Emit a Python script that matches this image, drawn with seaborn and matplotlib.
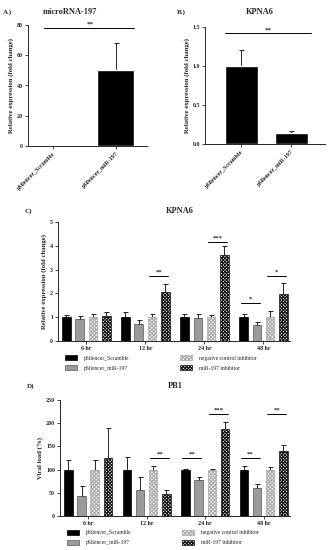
import numpy as np
import pandas as pd
import matplotlib
matplotlib.use("Agg")
import matplotlib.pyplot as plt
from matplotlib.patches import Patch
import seaborn as sns

# ---------------- data ----------------
ab_groups = ["pSilencer_Scramble", "pSilencer_miR-197"]
a_values = [0.5, 50.5]
a_errors = [0.3, 17.5]
b_values = [1.0, 0.135]
b_errors = [0.21, 0.035]

times = ["6 hr", "12 hr", "24 hr", "48 hr"]
series = ["pSilencer_Scramble", "pSilencer_miR-197",
          "negative control inhibitor", "miR-197 inhibitor"]

c_scramble = [1.0, 1.0, 1.0, 1.0]
c_mir = [0.92, 0.73, 0.97, 0.67]
c_negctrl = [1.0, 1.0, 1.0, 1.0]
c_inhib = [1.05, 2.05, 3.6, 1.97]
c_scramble_err = [0.08, 0.2, 0.15, 0.13]
c_mir_err = [0.12, 0.15, 0.15, 0.12]
c_negctrl_err = [0.14, 0.14, 0.1, 0.25]
c_inhib_err = [0.17, 0.35, 0.38, 0.47]

d_scramble = [100, 100, 100, 100]
d_mir = [44, 55, 77, 61]
d_negctrl = [100, 100, 100, 100]
d_inhib = [126, 47, 187, 141]
d_scramble_err = [20, 27, 2, 7]
d_mir_err = [20, 28, 8, 8]
d_negctrl_err = [20, 8, 1, 5]
d_inhib_err = [64, 8, 15, 12]

# significance: (time index, bar a, bar b, y, label)
c_sig = [(1, 2, 3, 2.73, "**"), (2, 2, 3, 4.16, "***"),
         (3, 0, 1, 1.6, "*"), (3, 2, 3, 2.73, "*")]
d_sig = [(1, 2, 3, 125, "**"), (2, 0, 1, 125, "**"), (2, 2, 3, 220, "***"),
         (3, 0, 1, 125, "**"), (3, 2, 3, 220, "**")]

# ---------------- style ----------------
sns.set_theme(style="ticks")
plt.rcParams["font.family"] = ["Liberation Serif", "DejaVu Serif"]
plt.rcParams["font.weight"] = "bold"
plt.rcParams["axes.labelweight"] = "bold"
plt.rcParams["hatch.linewidth"] = 0.8
plt.rcParams["axes.linewidth"] = 0.7

W, H = 330, 550
fig = plt.figure(figsize=(W / 100, H / 100), dpi=100)


def px_axes(left, top, right, bottom):
    return fig.add_axes([left / W, 1 - bottom / H, (right - left) / W, (bottom - top) / H])


face = ["#000000", "#9b9b9b", "#ffffff", "#ffffff"]
edge = ["#000000", "#555555", "#a8a8a8", "#111111"]
hatches = [None, None, "xxxxxxxxx", "xxxxxxxxxx"]

TICK_FS = 4.3
LAB_FS = 4.9
TITLE_FS = 6.0


def style_axes(ax):
    sns.despine(ax=ax)
    ax.tick_params(axis="both", labelsize=TICK_FS, width=0.6, length=2, pad=1.5)
    for lab in ax.get_xticklabels() + ax.get_yticklabels():
        lab.set_fontweight("bold")


def errbars(ax, xs, ys, errs):
    ax.errorbar(xs, ys, yerr=[np.zeros(len(errs)), errs], fmt="none",
                ecolor="black", elinewidth=0.6, capsize=1.8, capthick=0.6, zorder=1)


# ---------------- panel A ----------------
axA = px_axes(28, 25, 147, 146)
dfA = pd.DataFrame({"group": ab_groups, "value": a_values})
sns.barplot(data=dfA, x="group", y="value", color="black", width=0.6,
            errorbar=None, ax=axA, zorder=2)
xsA = [p.get_x() + p.get_width() / 2 for p in axA.patches]
errbars(axA, xsA, a_values, a_errors)
axA.set_ylim(0, 80)
axA.set_yticks([0, 20, 40, 60, 80])
axA.set_xlim(-0.4, 1.5)
axA.set_xlabel("")
axA.set_ylabel("Relative expression (fold change)", fontsize=LAB_FS, labelpad=2)
style_axes(axA)
axA.set_xticks(range(len(ab_groups)))
axA.set_xticklabels(ab_groups, rotation=45, ha="right", rotation_mode="anchor",
                    fontsize=TICK_FS, fontweight="bold")
axA.plot([-0.15, 1.3], [78, 78], color="black", lw=0.7, clip_on=False)
axA.text(0.6, 79, "**", ha="center", va="bottom", fontsize=5, fontweight="bold")
fig.text(3 / W, 1 - 12 / H, "A.)", fontsize=TITLE_FS - 1, fontweight="bold", va="center")
fig.text(70 / W, 1 - 12 / H, "microRNA-197", fontsize=TITLE_FS, fontweight="bold",
         va="center", ha="center")

# ---------------- panel B ----------------
axB = px_axes(205, 27, 325, 144)
dfB = pd.DataFrame({"group": ab_groups, "value": b_values})
sns.barplot(data=dfB, x="group", y="value", color="black", width=0.66,
            errorbar=None, ax=axB, zorder=2)
xsB = [p.get_x() + p.get_width() / 2 for p in axB.patches]
errbars(axB, xsB, b_values, b_errors)
axB.set_ylim(0, 1.5)
axB.set_yticks([0.0, 0.5, 1.0, 1.5])
axB.set_yticklabels(["0.0", "0.5", "1.0", "1.5"])
axB.set_xlim(-0.72, 1.68)
axB.set_xlabel("")
axB.set_ylabel("Relative expression (fold change)", fontsize=LAB_FS, labelpad=2)
style_axes(axB)
axB.set_xticks(range(len(ab_groups)))
axB.set_xticklabels(ab_groups, rotation=45, ha="right", rotation_mode="anchor",
                    fontsize=TICK_FS, fontweight="bold")
axB.plot([-0.32, 1.40], [1.42, 1.42], color="black", lw=0.7, clip_on=False)
axB.text(0.54, 1.43, "**", ha="center", va="bottom", fontsize=5, fontweight="bold")
fig.text(177 / W, 1 - 12 / H, "B.)", fontsize=TITLE_FS - 1, fontweight="bold", va="center")
fig.text(260 / W, 1 - 12 / H, "KPNA6", fontsize=TITLE_FS, fontweight="bold",
         va="center", ha="center")


# ---------------- grouped panels ----------------
def grouped(ax, vals, errs, ylim, yticks, ylabel, sig, sig_fs):
    rows = []
    for s, v in zip(series, vals):
        for t, y in zip(times, v):
            rows.append({"time": t, "series": s, "value": y})
    df = pd.DataFrame(rows)
    sns.barplot(data=df, x="time", y="value", hue="series", order=times,
                hue_order=series, palette=face, width=0.9, gap=0.36,
                errorbar=None, ax=ax, zorder=2, legend=False)
    patches = ax.patches[:len(series) * len(times)]
    centers = {}
    for k, p in enumerate(patches):
        si, ti = divmod(k, len(times))
        p.set_edgecolor(edge[si])
        p.set_linewidth(0.5)
        if hatches[si]:
            p.set_hatch(hatches[si])
        centers[(ti, si)] = p.get_x() + p.get_width() / 2
    for si in range(len(series)):
        xs = [centers[(ti, si)] for ti in range(len(times))]
        errbars(ax, xs, vals[si], errs[si])
    ax.set_ylim(*ylim)
    ax.set_yticks(yticks)
    ax.set_xlim(-0.48, 3.45)
    ax.set_xlabel("")
    ax.set_ylabel(ylabel, fontsize=LAB_FS, labelpad=2)
    style_axes(ax)
    for (ti, a, b, y, lab) in sig:
        x0 = centers[(ti, a)] - 0.05
        x1 = centers[(ti, b)] + 0.05
        ax.plot([x0, x1], [y, y], color="black", lw=0.7, clip_on=False)
        ax.text((x0 + x1) / 2, y + sig_fs, lab, ha="center", va="bottom",
                fontsize=4.8, fontweight="bold")
    handles = [Patch(facecolor=face[i], edgecolor=edge[i], hatch=hatches[i], lw=0.5)
               for i in range(len(series))]
    leg = ax.legend(handles, series, loc="upper left", bbox_to_anchor=(0.02, -0.1),
                    ncol=2, frameon=False, fontsize=4.1, handlelength=2.2,
                    handleheight=0.9, columnspacing=8.8, labelspacing=0.85,
                    handletextpad=1.2, borderaxespad=0)
    for t in leg.get_texts():
        t.set_fontweight("normal")


axC = px_axes(58, 222, 290, 341)
grouped(axC,
        [c_scramble, c_mir, c_negctrl, c_inhib],
        [c_scramble_err, c_mir_err, c_negctrl_err, c_inhib_err],
        (0, 5), [0, 1, 2, 3, 4, 5], "Relative expression (fold change)", c_sig, 0.04)
fig.text(25 / W, 1 - 211 / H, "C)", fontsize=TITLE_FS - 1, fontweight="bold", va="center")
fig.text(180 / W, 1 - 211 / H, "KPNA6", fontsize=TITLE_FS, fontweight="bold",
         va="center", ha="center")

axD = px_axes(60, 400, 290, 516)
grouped(axD,
        [d_scramble, d_mir, d_negctrl, d_inhib],
        [d_scramble_err, d_mir_err, d_negctrl_err, d_inhib_err],
        (0, 250), [0, 50, 100, 150, 200, 250], "Viral load (%)", d_sig, 2)
fig.text(27 / W, 1 - 386 / H, "D)", fontsize=TITLE_FS - 1, fontweight="bold", va="center")
fig.text(175 / W, 1 - 386 / H, "PB1", fontsize=TITLE_FS, fontweight="bold",
         va="center", ha="center")

fig.savefig("out.png", dpi=100, facecolor="white")
